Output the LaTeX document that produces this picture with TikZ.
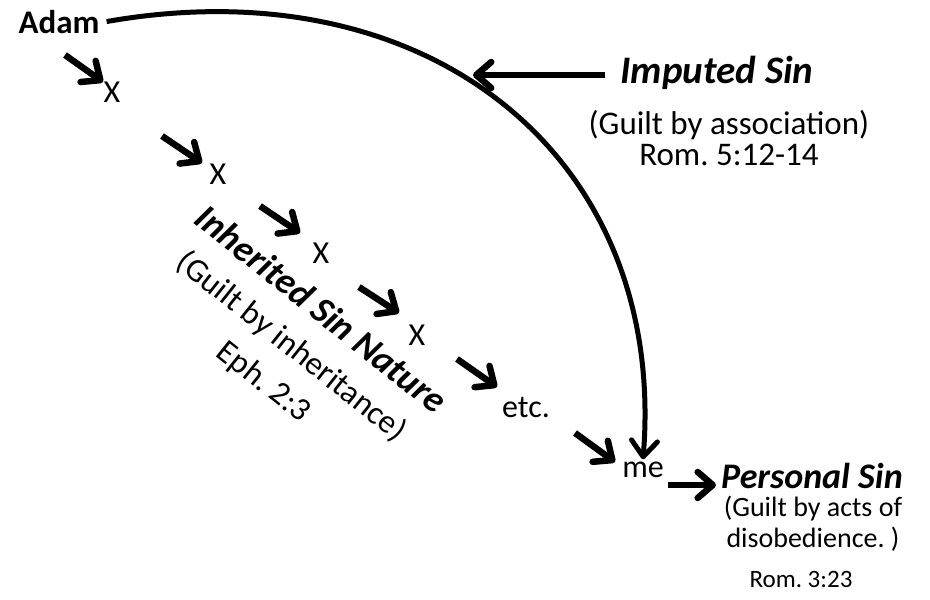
\documentclass[tikz,border=0pt]{standalone}
\usepackage{fontspec}
\setmainfont{Carlito}
\usetikzlibrary{arrows.meta}
\frenchspacing
\tikzset{
  gen/.style={font=\fontsize{32}{38}\selectfont, inner sep=2pt, anchor=base},
  head/.style={font=\fontsize{38}{44}\selectfont\bfseries\itshape, inner sep=2pt, anchor=base},
  ref/.style={font=\fontsize{33}{31}\selectfont, align=center, inner sep=0pt, anchor=base},
  flow/.style={line width=6.5pt, -{Straight Barb[length=15pt,width=26pt,round]}},
  bigcurve/.style={line width=5pt, -{Straight Barb[length=16pt,width=26pt,round]}},
}
\begin{document}
\begin{tikzpicture}[x=1pt,y=1pt]
  \useasboundingbox (0,0) rectangle (930,-600);
  % chain of generations
  \node[gen, font=\fontsize{33}{38}\selectfont\bfseries] (adam) at (59,-33) {Adam};
  \node[gen] (x1) at (112,-102) {X};
  \node[gen] (x2) at (218,-184) {X};
  \node[gen] (x3) at (321,-263) {X};
  \node[gen] (x4) at (417,-345) {X};
  \node[gen] (etc) at (526,-417) {etc.};
  \node[gen] (me) at (643,-477) {me};
  % labels
  \node[head, font=\fontsize{39}{44}\selectfont\bfseries\itshape] (imputed) at (717,-83) {Imputed Sin};
  \node[ref] (imputedref) at (729,-165) {(Guilt by association)\\Rom. 5:12-14};
  \node[head, font=\fontsize{36}{44}\selectfont\bfseries\itshape] (personal) at (812,-488) {Personal Sin};
  \node[ref, font=\fontsize{28}{31}\selectfont] (personalref) at (813,-547) {(Guilt by acts of\\disobedience. )};
  \node[ref, font=\fontsize{25}{30}\selectfont] (personalverse) at (801,-587) {Rom. 3:23};
  \node[rotate=-38.5, align=center, font=\fontsize{33}{45}\selectfont] (inherited) at (292,-346)
    {{\fontsize{37}{45}\selectfont\bfseries\itshape Inherited Sin Nature}\\(Guilt by inheritance)\\Eph. 2:3};
  \coordinate (imptip) at (473,-75);
  % arrows
  \draw[flow] ([shift={(-47,47)}]x1.base) -- ([shift={(-9,20)}]x1.base);
  \draw[flow] ([shift={(-56,48)}]x2.base) -- ([shift={(-16,21)}]x2.base);
  \draw[flow] ([shift={(-61,57)}]x3.base) -- ([shift={(-21,30)}]x3.base);
  \draw[flow] ([shift={(-58,58)}]x4.base) -- ([shift={(-18,32)}]x4.base);
  \draw[flow] ([shift={(-69,58)}]etc.base) -- ([shift={(-29,30)}]etc.base);
  \draw[flow] ([shift={(-68,44)}]me.base) -- ([shift={(-28,15)}]me.base);
  \draw[flow] ([shift={(-13,8)}]imputed.base west) -- (imptip);
  \draw[flow] ([shift={(2,-8)}]me.base east) -- ([shift={(-3,3)}]personal.base west);
  \draw[bigcurve] ([xshift=5]adam.east) .. controls +(325,57) and +(24,300) .. (me.north);
\end{tikzpicture}
\end{document}
